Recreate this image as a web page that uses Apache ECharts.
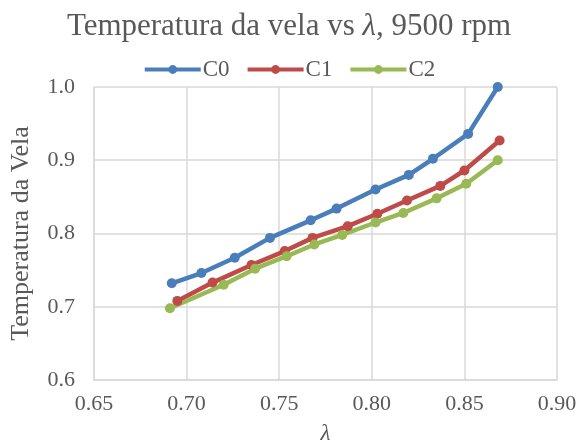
<!DOCTYPE html>
<html>
<head>
<meta charset="utf-8">
<script src="https://cdn.jsdelivr.net/npm/echarts@6/dist/echarts.min.js"></script>
<style>
  html, body { margin: 0; padding: 0; background: #fff; }
  #chart { width: 578px; height: 443px; }
</style>
</head>
<body>
<div id="chart"></div>
<script>
// Spark plug temperature against lambda at 9500 rpm, three configurations
const seriesNames = ['C0', 'C1', 'C2'];
const lambdaC0 = [0.692, 0.708, 0.726, 0.745, 0.767, 0.781, 0.802, 0.820, 0.833, 0.852, 0.868];
const tempC0   = [0.732, 0.746, 0.767, 0.794, 0.818, 0.834, 0.860, 0.880, 0.902, 0.936, 1.000];
const lambdaC1 = [0.695, 0.714, 0.735, 0.753, 0.768, 0.787, 0.803, 0.819, 0.837, 0.850, 0.869];
const tempC1   = [0.708, 0.733, 0.757, 0.776, 0.794, 0.810, 0.827, 0.845, 0.865, 0.886, 0.927];
const lambdaC2 = [0.691, 0.720, 0.737, 0.754, 0.769, 0.784, 0.802, 0.817, 0.835, 0.851, 0.868];
const tempC2   = [0.698, 0.730, 0.752, 0.769, 0.785, 0.798, 0.815, 0.828, 0.848, 0.868, 0.900];
const colors = ['#4A7EBB', '#BE4B48', '#98B954'];

const xs = [lambdaC0, lambdaC1, lambdaC2];
const ys = [tempC0, tempC1, tempC2];

const serif = '"Liberation Serif", "DejaVu Serif", serif';
const textColor = '#595959';
const gridColor = '#D9D9D9';

const chart = echarts.init(document.getElementById('chart'));
chart.setOption({
  animation: false,
  backgroundColor: '#ffffff',
  title: {
    text: '{n|Temperatura da vela vs }{i|λ}{n|, 9500 rpm}',
    left: 'center',
    top: 6,
    textStyle: {
      rich: {
        n: { fontFamily: serif, fontSize: 31, color: textColor, fontWeight: 'normal' },
        i: { fontFamily: serif, fontSize: 31, color: textColor, fontWeight: 'normal', fontStyle: 'italic' }
      }
    }
  },
  legend: {
    data: seriesNames,
    top: 53,
    left: 'center',
    itemWidth: 56,
    itemHeight: 11,
    itemGap: 16,
    lineStyle: { width: 4 },
    textStyle: { fontFamily: serif, fontSize: 23, color: textColor, padding: [0, 0, 0, -3] }
  },
  grid: { left: 94, right: 21, top: 87, bottom: 63, outerBoundsMode: 'none', containLabel: false },
  xAxis: {
    type: 'value',
    min: 0.65,
    max: 0.90,
    interval: 0.05,
    name: 'λ',
    nameLocation: 'middle',
    nameGap: 42,
    nameTextStyle: { fontFamily: serif, fontSize: 23, color: textColor, fontStyle: 'italic' },
    axisLine: { show: true, lineStyle: { color: gridColor, width: 1.5 } },
    axisTick: { show: false },
    splitLine: { show: true, lineStyle: { color: gridColor, width: 1.5 } },
    axisLabel: {
      fontFamily: serif, fontSize: 22, color: textColor, margin: 13,
      formatter: v => v.toFixed(2)
    }
  },
  yAxis: {
    type: 'value',
    min: 0.6,
    max: 1.0,
    interval: 0.1,
    name: 'Temperatura da Vela',
    nameLocation: 'middle',
    nameGap: 60,
    nameTextStyle: { fontFamily: serif, fontSize: 26, color: textColor },
    axisLine: { show: true, lineStyle: { color: gridColor, width: 1.5 } },
    axisTick: { show: false },
    splitLine: { show: true, lineStyle: { color: gridColor, width: 1.5 } },
    axisLabel: {
      fontFamily: serif, fontSize: 22, color: textColor, margin: 19,
      formatter: v => v.toFixed(1)
    }
  },
  series: seriesNames.map((name, k) => ({
    name: name,
    type: 'line',
    data: xs[k].map((x, i) => [x, ys[k][i]]),
    symbol: 'circle',
    symbolSize: 10,
    color: colors[k],
    lineStyle: { width: 4.5, color: colors[k] },
    itemStyle: { color: colors[k] }
  }))
});
</script>
</body>
</html>
